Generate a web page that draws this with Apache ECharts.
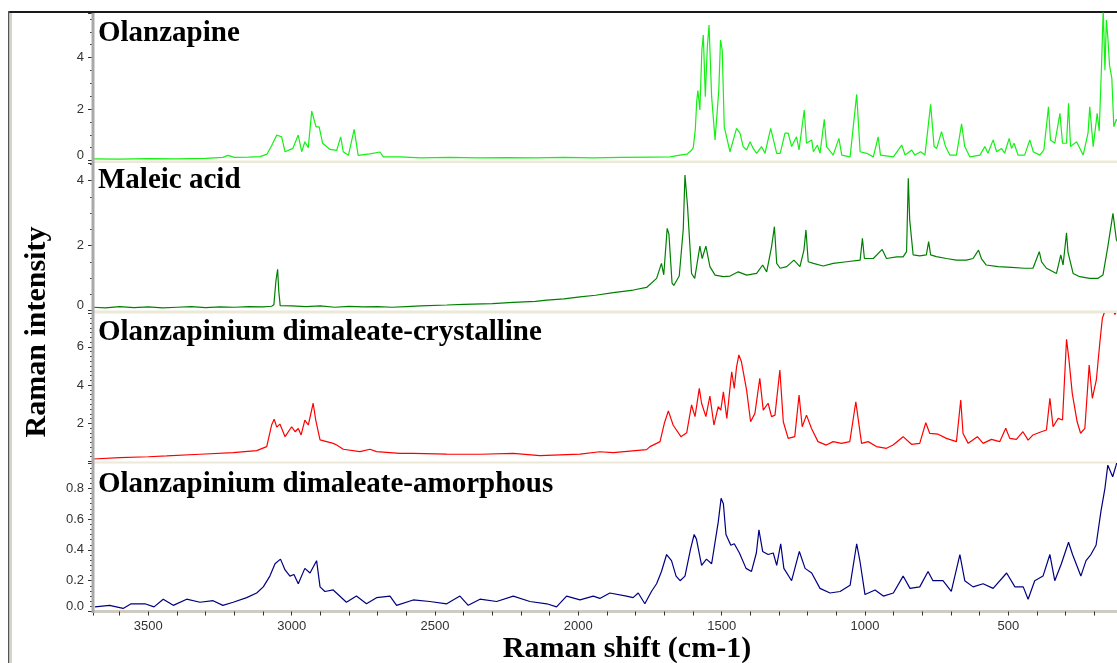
<!DOCTYPE html>
<html>
<head>
<meta charset="utf-8">
<script src="https://cdn.jsdelivr.net/npm/echarts@6/dist/echarts.min.js"></script>
<style>
html,body{margin:0;padding:0;background:#fff;}
#chart{width:1117px;height:663px;}
</style>
</head>
<body>
<div id="chart"></div>
<script>
// ---- panel titles / axis titles ----
var panelTitles = ['Olanzapine', 'Maleic acid', 'Olanzapinium dimaleate-crystalline', 'Olanzapinium dimaleate-amorphous'];
var xTitle = 'Raman shift (cm-1)';
var yTitle = 'Raman intensity';
var xTickLabels = [3500, 3000, 2500, 2000, 1500, 1000, 500];

// ---- Olanzapine (wavenumber, intensity) ----
var olzW = [3693,3600,3500,3400,3300,3240,3222,3200,3150,3110,3086,3070,3052,3035,3023,2996,2977,2965,2954,2942,2930,2915,2904,2892,2866,2843,2829,2820,2802,2782,2768,2727,2692,2680,2622,2550,2450,2350,2250,2150,2050,1950,1850,1750,1680,1646,1620,1605,1599,1592,1587,1583,1576,1569,1564,1557,1550,1544,1535,1523,1519,1510,1504,1498,1491,1471,1448,1436,1425,1413,1401,1390,1378,1361,1349,1329,1308,1296,1279,1268,1256,1239,1230,1212,1204,1186,1180,1166,1157,1142,1134,1111,1091,1081,1052,1029,1017,994,971,954,946,901,872,860,837,826,806,791,771,759,750,733,719,704,681,663,652,634,599,582,571,553,541,524,513,497,489,480,466,443,425,413,390,376,360,353,338,320,311,297,290,283,262,239,222,216,204,190,183,175,169,163,158,153,147,139,132,123,110];
var olzI = [0.06,0.05,0.07,0.06,0.08,0.12,0.2,0.12,0.13,0.15,0.25,0.57,0.99,0.92,0.34,0.47,0.99,0.34,0.73,0.5,1.92,1.31,1.31,0.67,0.43,0.39,0.92,0.34,0.2,1.21,0.2,0.26,0.33,0.14,0.14,0.1,0.12,0.1,0.11,0.1,0.12,0.1,0.12,0.13,0.14,0.21,0.25,0.4,0.5,1.2,2.3,2.72,1.96,4.3,4.87,2.48,4.42,5.26,2.48,0.8,0.8,2.74,4.68,4.29,1.31,0.34,1.25,1.06,0.54,0.41,0.73,0.47,0.28,0.54,0.28,1.25,0.28,0.28,1.06,1.06,0.54,0.92,0.41,1.96,0.67,0.8,0.34,0.6,0.28,1.6,0.54,0.21,0.86,0.21,0.14,2.57,0.34,0.28,0.14,0.92,0.21,0.14,0.6,0.21,0.41,0.21,0.34,0.21,2.18,0.54,0.47,1.12,0.54,0.21,0.21,1.42,0.54,0.14,0.21,0.54,0.28,0.8,0.34,0.47,0.28,0.86,0.47,0.67,0.21,0.21,0.8,0.34,0.21,0.41,2.09,0.8,0.67,1.83,0.67,0.67,2.22,0.54,0.73,0.21,1.06,2.09,0.54,1.83,1.15,3.64,5.9,3.51,5.46,4.8,3.7,3.2,1.31,1.6,1.4];

// ---- Maleic acid ----
var malW = [3693,3650,3600,3550,3500,3450,3400,3350,3300,3250,3200,3150,3100,3070,3062,3055,3049,3045,3040,3000,2950,2900,2850,2800,2750,2700,2650,2600,2550,2459,2400,2300,2227,2150,2110,2050,1994,1940,1878,1808,1762,1727,1710,1702,1690,1684,1673,1667,1648,1634,1628,1619,1605,1594,1576,1568,1555,1541,1523,1494,1471,1442,1413,1378,1357,1343,1326,1316,1308,1296,1273,1248,1227,1213,1206,1198,1180,1146,1111,1064,1017,1009,1002,971,940,925,890,867,855,849,844,832,809,786,778,771,751,716,681,646,623,604,594,577,536,489,443,414,392,384,367,332,317,309,297,292,274,251,216,187,170,153,135,129,123,110];
var malI = [0.1,0.08,0.12,0.09,0.11,0.08,0.1,0.12,0.09,0.11,0.1,0.12,0.11,0.13,0.18,0.9,1.27,0.6,0.15,0.14,0.12,0.14,0.1,0.13,0.11,0.12,0.1,0.12,0.14,0.17,0.19,0.21,0.25,0.28,0.32,0.36,0.42,0.47,0.55,0.63,0.71,0.99,1.45,1.1,2.53,2.35,0.84,0.77,1.06,2.5,4.17,3.2,1.14,0.99,1.98,1.6,1.98,1.35,1.09,1.04,1.06,1.19,1.09,1.14,1.4,1.19,1.96,2.58,1.45,1.3,1.35,1.55,1.35,1.86,2.48,1.5,1.45,1.37,1.45,1.5,1.55,2.22,1.6,1.6,1.88,1.6,1.65,1.65,1.81,4.07,2.78,1.71,1.68,1.71,2.12,1.71,1.66,1.6,1.55,1.55,1.6,1.86,1.6,1.4,1.35,1.33,1.3,1.3,1.81,1.5,1.3,1.14,1.71,1.4,2.39,1.8,1.14,1.04,0.99,0.99,1.09,1.96,2.99,2.58,2.17,2.0];

// ---- Olanzapinium dimaleate - crystalline ----
var crysW = [3693,3600,3500,3436,3320,3204,3122,3087,3070,3061,3052,3041,3023,3000,2988,2977,2967,2954,2942,2925,2916,2901,2855,2843,2820,2762,2727,2704,2622,2576,2459,2343,2227,2134,1994,1925,1878,1762,1750,1727,1715,1700,1686,1669,1642,1622,1605,1593,1578,1570,1555,1541,1527,1512,1503,1494,1482,1465,1456,1448,1440,1431,1413,1399,1384,1367,1355,1338,1326,1314,1297,1285,1268,1245,1230,1219,1204,1187,1164,1135,1111,1082,1053,1032,1024,1012,989,960,925,902,867,838,809,788,774,745,716,681,666,658,640,608,588,559,530,509,495,472,449,431,414,385,367,355,344,326,311,297,289,277,260,248,233,218,207,193,181,172,165,150,128,110];
var crysI = [0.13,0.2,0.25,0.29,0.38,0.46,0.57,0.78,1.91,2.21,1.8,1.96,1.3,1.82,1.56,1.73,1.39,2.17,1.91,3.05,2.17,1.13,0.95,0.86,0.64,0.52,0.64,0.52,0.43,0.43,0.39,0.38,0.43,0.31,0.39,0.51,0.46,0.62,0.78,0.95,1.04,2.0,2.65,1.9,1.3,1.5,2.96,2.35,3.83,3.05,2.35,3.43,1.91,2.87,2.69,3.65,2.26,4.7,3.83,4.96,5.58,5.22,3.74,2.08,2.52,4.36,2.69,3.05,2.35,2.43,4.79,2.08,1.21,1.3,3.48,1.82,2.43,1.74,1.04,0.86,1.04,0.95,1.04,3.13,2.26,0.95,1.04,0.78,0.69,0.86,1.3,0.9,0.95,2.03,1.47,1.43,1.21,1.04,3.22,1.47,0.95,1.3,0.95,1.16,1.04,1.74,1.21,1.16,1.56,1.12,1.39,1.56,1.65,3.31,1.82,2.26,2.17,6.4,5.4,3.57,2.08,1.48,1.74,5.05,3.31,4.27,6.19,7.5,7.8,8.5,7.7,8.4];

// ---- Olanzapinium dimaleate - amorphous ----
var amorW = [3686,3635,3588,3560,3512,3480,3448,3413,3366,3320,3274,3240,3204,3157,3122,3099,3076,3058,3039,3023,3006,2992,2977,2954,2936,2913,2901,2884,2855,2809,2774,2739,2704,2657,2634,2576,2518,2459,2413,2384,2343,2285,2227,2169,2110,2076,2041,1994,1948,1925,1890,1832,1809,1791,1768,1745,1727,1710,1692,1675,1659,1645,1628,1608,1596,1588,1570,1553,1535,1512,1502,1494,1485,1468,1456,1438,1415,1396,1379,1370,1357,1338,1320,1308,1294,1283,1256,1229,1209,1186,1157,1122,1087,1052,1029,1017,1000,965,936,901,867,843,809,780,763,728,699,669,652,623,588,553,506,477,448,431,408,379,355,338,315,290,276,247,229,212,194,177,163,153,136,124,110];
var amorI = [0.03,0.04,0.02,0.05,0.05,0.03,0.08,0.04,0.08,0.06,0.07,0.04,0.06,0.09,0.12,0.16,0.23,0.31,0.34,0.27,0.23,0.24,0.18,0.28,0.25,0.33,0.16,0.13,0.14,0.06,0.1,0.05,0.09,0.1,0.04,0.075,0.065,0.05,0.1,0.04,0.08,0.065,0.1,0.065,0.05,0.03,0.1,0.075,0.1,0.085,0.12,0.1,0.09,0.12,0.05,0.13,0.18,0.26,0.37,0.33,0.23,0.2,0.23,0.41,0.5,0.47,0.3,0.34,0.31,0.58,0.735,0.7,0.5,0.43,0.44,0.38,0.28,0.26,0.38,0.53,0.39,0.37,0.38,0.3,0.44,0.28,0.2,0.39,0.28,0.25,0.15,0.12,0.13,0.17,0.44,0.32,0.11,0.14,0.1,0.12,0.23,0.15,0.16,0.26,0.2,0.2,0.13,0.37,0.2,0.16,0.18,0.15,0.25,0.16,0.16,0.08,0.2,0.23,0.37,0.2,0.31,0.45,0.37,0.23,0.33,0.37,0.43,0.65,0.8,0.95,0.875,0.95,1.05];

function zip(w, v) { var out = []; for (var i = 0; i < w.length; i++) out.push([w[i], v[i]]); return out; }

function lowFmt(str) { return '{lo|' + str + '}'; }

var seriesSets = [
  { data: zip(olzW, olzI), color: '#14f014', max: 5.73, interval: 2, minor: 4, fmt: function (v) { return v === 0 ? lowFmt('0') : String(v); } },
  { data: zip(malW, malI), color: '#008000', max: 4.54, interval: 2, minor: 4, fmt: function (v) { return v === 0 ? lowFmt('0') : String(v); } },
  { data: zip(crysW, crysI), color: '#ff0000', max: 7.75, interval: 2, minor: 8, fmt: function (v) { return v === 0 ? '' : String(v); } },
  { data: zip(amorW, amorI), color: '#000080', max: 0.961, interval: 0.2, minor: 6, fmt: function (v) { return v === 0 ? lowFmt('0.0') : v.toFixed(1); } }
];

var gridTops = [13, 163, 313.5, 463.5];
var gridHeights = [147.5, 147.5, 148, 148];
var labelFont = 'Liberation Sans';
var serifFont = 'Liberation Serif';

var grids = [], xAxes = [], yAxes = [], series = [], titles = [];
seriesSets.forEach(function (s, i) {
  grids.push({ left: 93, width: 1030, top: gridTops[i], height: gridHeights[i], containLabel: false, outerBoundsMode: 'none' });
  var isBottom = (i === 3);
  xAxes.push({
    type: 'value', gridIndex: i, min: 100, max: 3693, interval: 100, inverse: true,
    show: true,
    axisLine: { show: isBottom, onZero: false, lineStyle: { color: '#cfcbc0', width: 3 } },
    axisTick: { show: isBottom, length: 4, lineStyle: { color: '#333', width: 1 } },
    axisLabel: {
      show: isBottom, margin: 8, fontFamily: labelFont, fontSize: 13, color: '#333',
      formatter: function (v) { return xTickLabels.indexOf(v) >= 0 ? String(v) : ''; }
    },
    splitLine: { show: false }
  });
  yAxes.push({
    type: 'value', gridIndex: i, min: 0, max: s.max, interval: s.interval,
    axisLine: { show: false },
    axisTick: { show: true, length: 5, lineStyle: { color: '#333', width: 1 } },
    minorTick: { show: true, splitNumber: s.minor, length: 3, lineStyle: { color: '#444', width: 1 } },
    axisLabel: {
      margin: 9, fontFamily: labelFont, fontSize: 13, color: '#333', showMaxLabel: false, formatter: s.fmt,
      rich: { lo: { fontFamily: labelFont, fontSize: 13, color: '#333', padding: [0, 0, 11, 0] } }
    },
    splitLine: { show: false }
  });
  series.push({
    type: 'line', xAxisIndex: i, yAxisIndex: i, data: s.data, showSymbol: false, symbol: 'none',
    clip: true, animation: false, lineStyle: { color: s.color, width: 1.2 }
  });
  titles.push({
    text: panelTitles[i], left: 98, top: [19, 166, 318, 470][i], padding: 0,
    textStyle: { fontFamily: serifFont, fontWeight: 'bold', fontSize: 29, color: '#000' }
  });
});

var chart = echarts.init(document.getElementById('chart'), null, { renderer: 'canvas' });
chart.setOption({
  animation: false,
  backgroundColor: '#ffffff',
  title: titles,
  grid: grids,
  xAxis: xAxes,
  yAxis: yAxes,
  series: series,
  graphic: [
    // outer frame
    { type: 'rect', shape: { x: 9, y: 11, width: 1110, height: 2 }, style: { fill: '#1a1a1a' }, silent: true },
    { type: 'rect', shape: { x: 8, y: 11, width: 1.5, height: 660 }, style: { fill: '#555' }, silent: true },
    { type: 'rect', shape: { x: 9.5, y: 13, width: 2.5, height: 660 }, style: { fill: '#d6d3c9' }, silent: true },
    // y axis band
    { type: 'rect', shape: { x: 91.5, y: 13, width: 3, height: 600 }, style: { fill: '#a9a9a9' }, silent: true, z: 10 },
    // separators between panels
    { type: 'rect', shape: { x: 94, y: 160.5, width: 1030, height: 2.5 }, style: { fill: '#ece9d8' }, silent: true },
    { type: 'rect', shape: { x: 94, y: 310.5, width: 1030, height: 3 }, style: { fill: '#ece9d8' }, silent: true },
    { type: 'rect', shape: { x: 94, y: 461.5, width: 1030, height: 2 }, style: { fill: '#ece9d8' }, silent: true },
    // axis titles
    { type: 'text', x: 37, y: 332, rotation: Math.PI / 2, silent: true,
      style: { text: yTitle, font: 'bold 30px "Liberation Serif"', fill: '#000', align: 'center', verticalAlign: 'middle', textAlign: 'center', textVerticalAlign: 'middle' } },
    { type: 'text', x: 627, y: 649.5, silent: true,
      style: { text: xTitle, font: 'bold 30px "Liberation Serif"', fill: '#000', align: 'center', verticalAlign: 'middle', textAlign: 'center', textVerticalAlign: 'middle' } }
  ]
});
</script>
</body>
</html>
